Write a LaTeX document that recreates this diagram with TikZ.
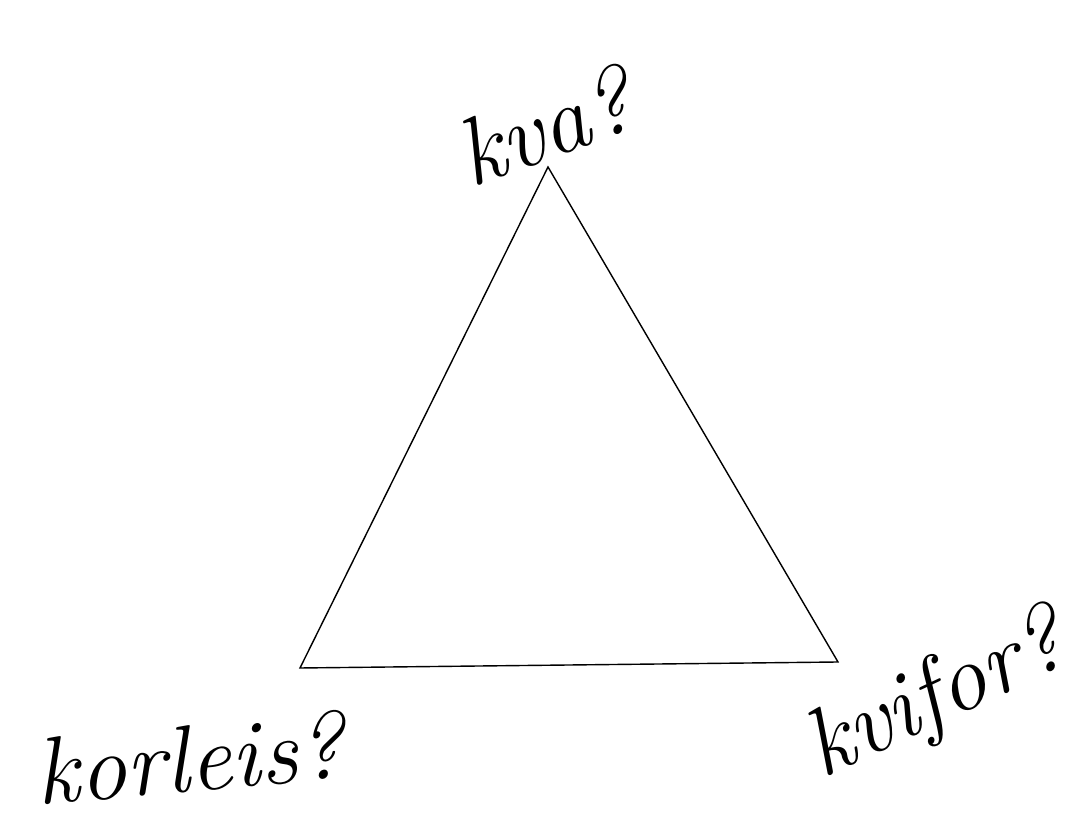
\documentclass[tikz,border=0pt]{standalone}
\usepackage{tikz}
\usetikzlibrary{positioning}
\tikzset{
  side/.style={draw=black, line width=0.8pt, line join=miter},
  hand/.style={font=\itshape\fontsize{54}{58}\selectfont, inner sep=0pt},
}

\begin{document}
\begin{tikzpicture}
  \useasboundingbox (0,0) rectangle (21.62,16.66);

  % --- corners of the triangle ---
  \coordinate (top) at (10.96,13.32);
  \coordinate (left) at (6.00,3.30);
  \coordinate (right) at (16.76,3.42);

  \draw[side] (top) -- (left) -- (right) -- cycle;

  % --- the three questions ---
  \node[hand, rotate=20] (kva) at (10.90,14.15){kva?};
  \node[hand, rotate=5] (korleis) at (3.80,1.50){korleis?};
  \node[hand, rotate=25] (kvifor) at (18.75,2.70){kvifor?};
\end{tikzpicture}
\end{document}
